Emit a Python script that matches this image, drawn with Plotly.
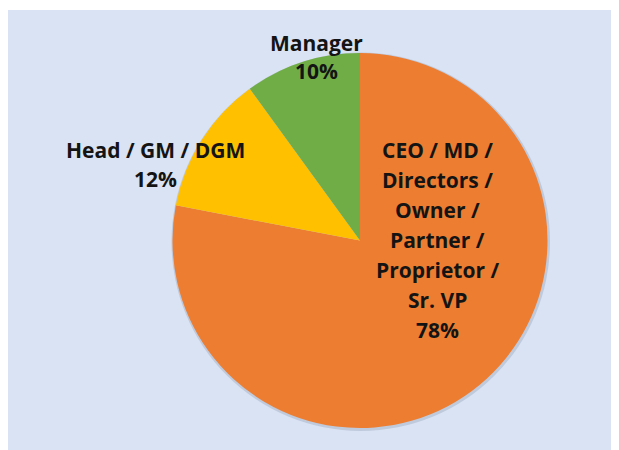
import plotly.graph_objects as go

categories = ["CEO / MD / Directors / Owner / Partner / Proprietor / Sr. VP",
              "Head / GM / DGM",
              "Manager"]
values = [78, 12, 10]
colors = ["#ED7D31", "#FFC000", "#70AD47"]

# page body has an 8px margin; work in reference coordinates and shift
OFF = 8
W, H = 619 - OFF, 450 - OFF
cx, cy, r = 360, 240.5, 187.5


def px(x):
    return (x - OFF) / W


def py(y):
    return 1 - (y - OFF) / H


fig = go.Figure()
fig.add_trace(go.Pie(
    labels=categories, values=values, sort=False, direction="clockwise",
    rotation=0, marker=dict(colors=colors, line=dict(width=0)),
    textinfo="none", hoverinfo="label+percent", showlegend=False,
    domain=dict(x=[px(cx - r), px(cx + r)], y=[py(cy + r), py(cy - r)]),
))

shapes = [
    dict(type="rect", xref="paper", yref="paper", x0=0, x1=1.0, y0=0, y1=py(10),
         fillcolor="#DAE3F3", line=dict(width=0), layer="below"),
    dict(type="circle", xref="paper", yref="paper",
         x0=px(cx - r - 1), x1=px(cx + r + 2.5), y0=py(cy + r + 3), y1=py(cy - r - 0.5),
         fillcolor="rgba(140,155,180,0.35)", line=dict(width=0), layer="below"),
]

total = sum(values)
pct = [f"{round(v * 100 / total)}%" for v in values]

font = dict(family="'Open Sans', sans-serif", size=21, color="#141414")
annotations = []


def add_lines(lines, x, y0, step):
    for i, t in enumerate(lines):
        annotations.append(dict(text=f"<b>{t}</b>", x=px(x), y=py(y0 + i * step),
                                xref="paper", yref="paper", showarrow=False,
                                xanchor="center", yanchor="middle", font=font))


ceo_lines = ["CEO / MD /", "Directors /", "Owner /", "Partner /", "Proprietor /", "Sr. VP"]
add_lines(ceo_lines + [pct[0]], 437, 150, 30)
add_lines([categories[1], pct[1]], 155.5, 150.5, 28.5)
add_lines([categories[2], pct[2]], 316.5, 43, 28.5)

fig.update_layout(
    width=W, height=H, margin=dict(l=0, r=0, t=0, b=0),
    paper_bgcolor="white", shapes=shapes, annotations=annotations,
)
fig.write_html("out.html")
